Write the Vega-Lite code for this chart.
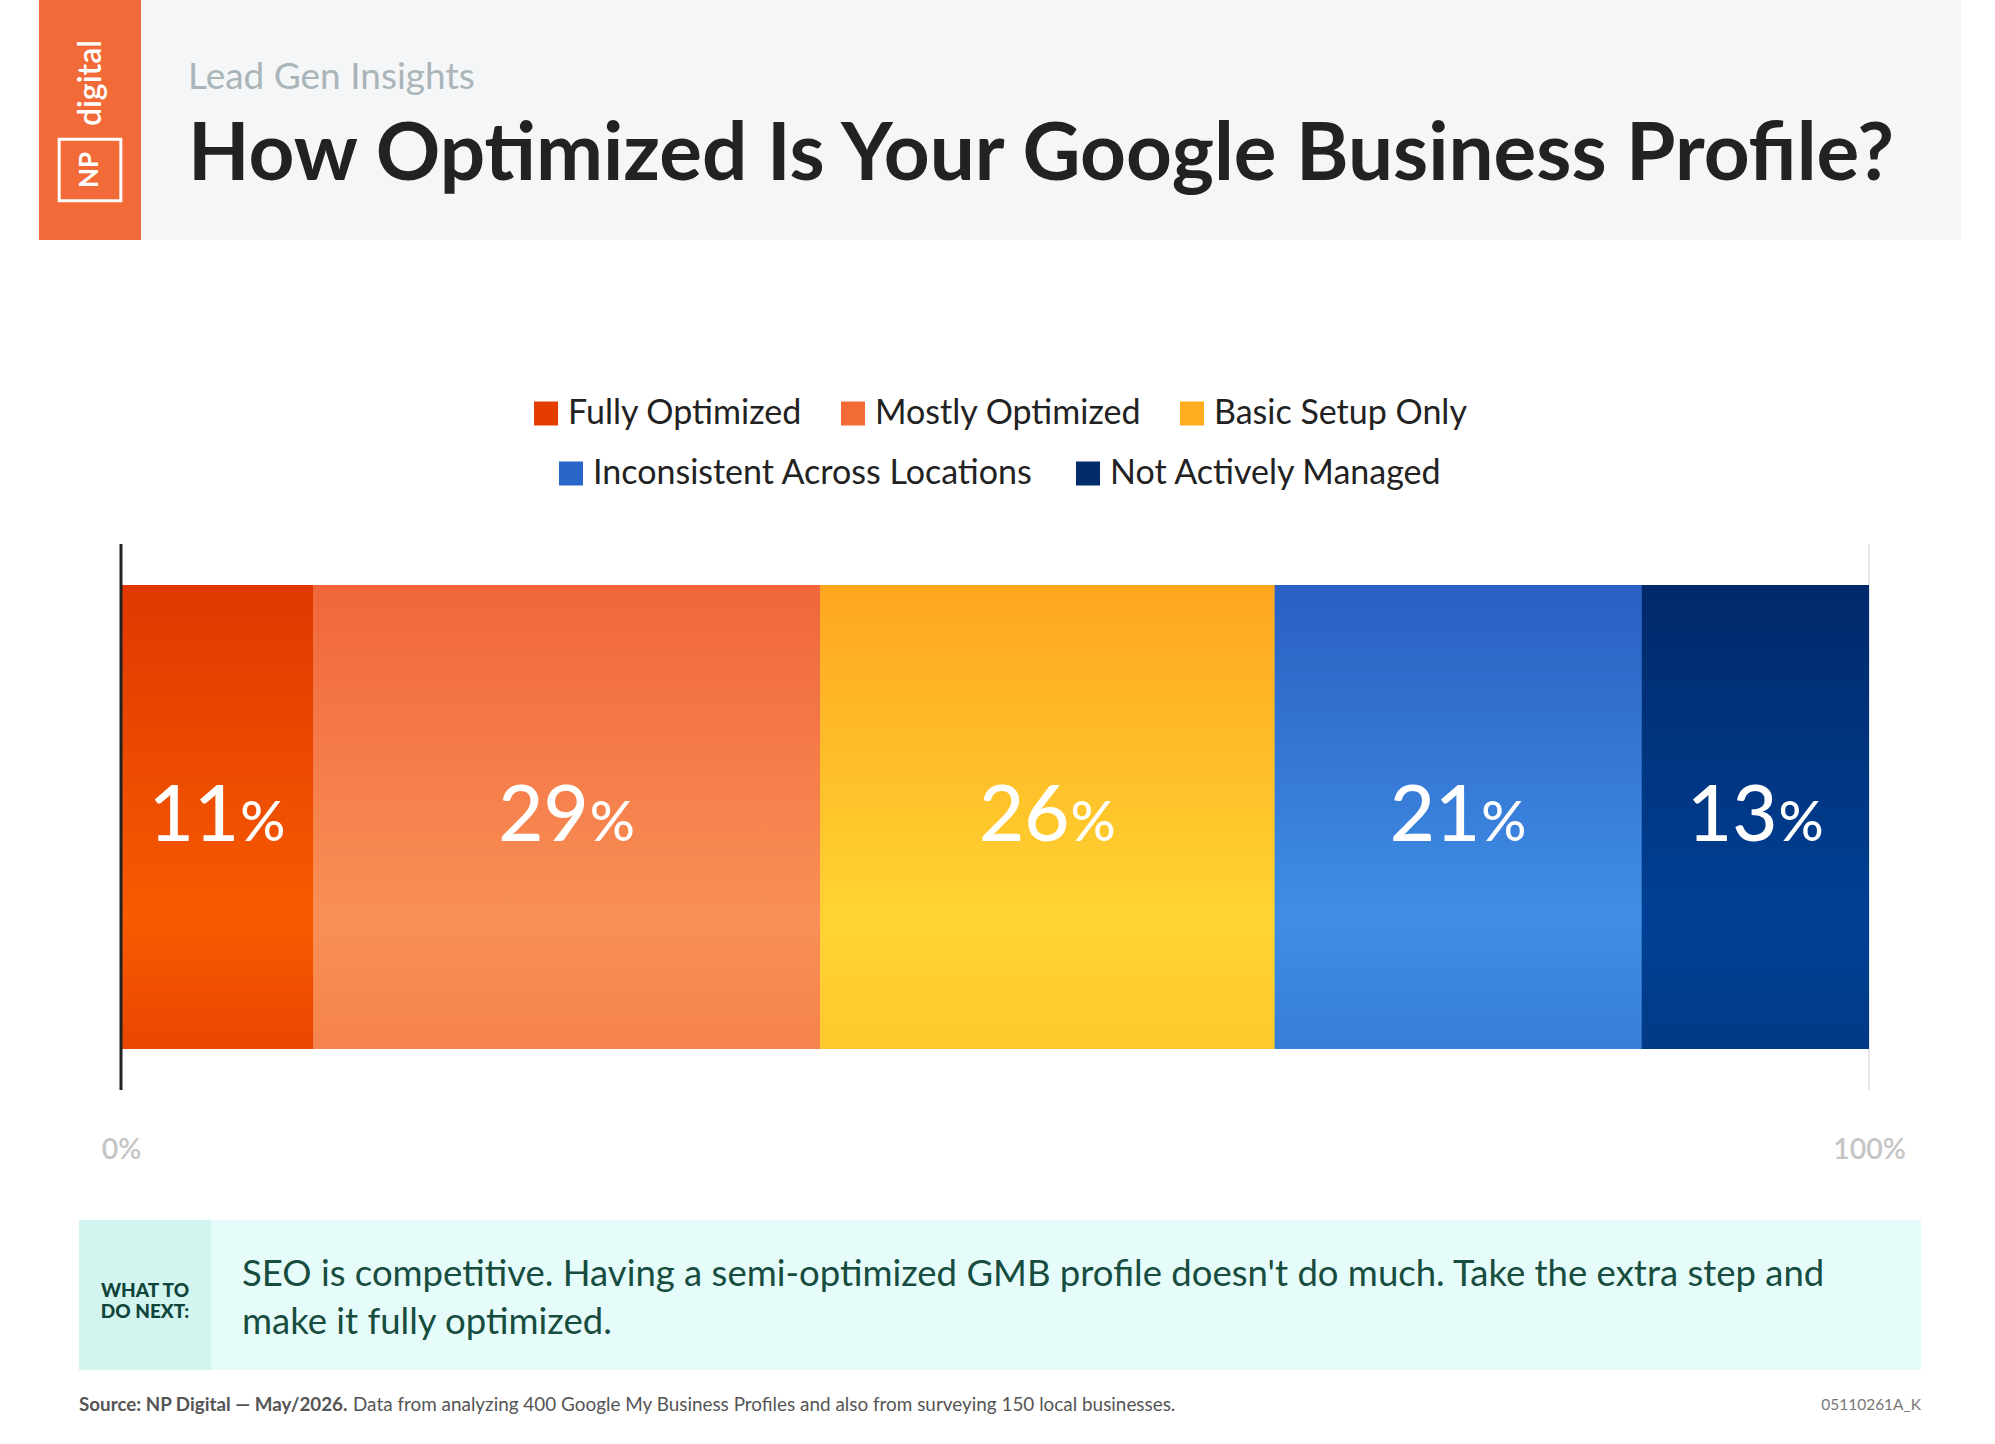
{
  "$schema": "https://vega.github.io/schema/vega-lite/v6.json",
  "background": "#ffffff",
  "padding": {"left": 39, "top": 0, "right": 0, "bottom": 0},
  "spacing": 156,
  "center": true,
  "config": {"font": "Lato", "view": {"stroke": null}},
  "vconcat": [
    {
      "spacing": 0,
      "bounds": "flush",
      "hconcat": [
        {
          "width": 102,
          "height": 240,
          "view": {"fill": "#f26a37", "stroke": null},
          "data": {"values": [{"word": "digital", "box": "NP"}]},
          "layer": [
            {"mark": {"type": "text", "angle": 270, "align": "center", "baseline": "middle", "dx": 37, "dy": 1, "fontSize": 32, "fontWeight": 600, "color": "#ffffff"}, "encoding": {"text": {"field": "word", "type": "nominal"}}},
            {"mark": {"type": "text", "angle": 270, "align": "center", "baseline": "middle", "dx": -50, "dy": 0, "fontSize": 26, "fontWeight": "bold", "color": "#ffffff"}, "encoding": {"text": {"field": "box", "type": "nominal"}}},
            {"mark": {"type": "point", "shape": "square", "size": 3800, "filled": false, "stroke": "#ffffff", "strokeWidth": 3, "opacity": 1, "yOffset": 50}, "encoding": {}}
          ]
        },
        {
          "width": 1820,
          "height": 240,
          "view": {"fill": "#f5f6f8", "stroke": null},
          "data": {"values": [{"kicker": "Lead Gen Insights", "headline": "How Optimized Is Your Google Business Profile?"}]},
          "layer": [
            {"mark": {"type": "text", "align": "left", "baseline": "alphabetic", "dx": -863, "dy": -31, "fontSize": 37, "color": "#a9b5b9"}, "encoding": {"text": {"field": "kicker", "type": "nominal"}}},
            {"mark": {"type": "text", "align": "left", "baseline": "alphabetic", "dx": -863, "dy": 60, "fontSize": 80, "fontWeight": "bold", "color": "#222222"}, "encoding": {"text": {"field": "headline", "type": "nominal"}}}
          ]
        }
      ]
    },
    {
      "spacing": 56,
      "center": false,
      "vconcat": [
        {
          "width": 1790,
          "height": 546,
          "data": {"values": [
            {"category": "Fully Optimized", "value": 11, "order": 1, "row": "Profiles"},
            {"category": "Mostly Optimized", "value": 29, "order": 2, "row": "Profiles"},
            {"category": "Basic Setup Only", "value": 26, "order": 3, "row": "Profiles"},
            {"category": "Inconsistent Across Locations", "value": 21, "order": 4, "row": "Profiles"},
            {"category": "Not Actively Managed", "value": 13, "order": 5, "row": "Profiles"}
          ]},
          "resolve": {"scale": {"color": "independent"}},
          "layer": [
            {
              "data": {"values": [{"edge": 100}]},
              "mark": {"type": "rule", "color": "#e6e6e6", "strokeWidth": 2},
              "encoding": {"x": {"field": "edge", "type": "quantitative", "scale": {"domain": [-2.4027, 100], "nice": false, "zero": false}, "axis": {"values": [0, 100], "labelExpr": "datum.value + '%'", "ticks": false, "domain": false, "grid": false, "title": null, "labelFontSize": 28.5, "labelColor": "#c5c5c5", "labelFontWeight": 600, "labelPadding": 45, "labelFlush": false}}}
            },
            {
              "transform": [{"stack": "value", "groupby": ["row"], "sort": [{"field": "order", "order": "ascending"}], "as": ["x0", "x1"]}, {"filter": "datum.order <= 3"}],
              "mark": {"type": "bar"},
              "encoding": {
                "x": {"field": "x0", "type": "quantitative", "scale": {"domain": [-2.4027, 100], "nice": false, "zero": false}, "axis": {"values": [0, 100], "labelExpr": "datum.value + '%'", "ticks": false, "domain": false, "grid": false, "title": null, "labelFontSize": 28.5, "labelColor": "#c5c5c5", "labelFontWeight": 600, "labelPadding": 45, "labelFlush": false}},
                "x2": {"field": "x1"},
                "y": {"field": "row", "type": "nominal", "axis": null, "scale": {"paddingInner": 0, "paddingOuter": 0.0885}},
                "color": {"field": "category", "type": "nominal", "scale": {"domain": ["Fully Optimized", "Mostly Optimized", "Basic Setup Only"], "range": ["#e53d00", "#f26a36", "#ffad1f"]}, "legend": {"orient": "none", "legendX": 450, "legendY": -147.5, "direction": "horizontal", "title": null, "symbolType": "square", "symbolSize": 576, "symbolStrokeWidth": 0, "labelFontSize": 34, "labelColor": "#222222", "labelOffset": 5, "columnPadding": 33, "labelLimit": 800}}
              }
            },
            {
              "transform": [{"stack": "value", "groupby": ["row"], "sort": [{"field": "order", "order": "ascending"}], "as": ["x0", "x1"]}, {"filter": "datum.order > 3"}],
              "mark": {"type": "bar"},
              "encoding": {
                "x": {"field": "x0", "type": "quantitative", "scale": {"domain": [-2.4027, 100], "nice": false, "zero": false}, "axis": {"values": [0, 100], "labelExpr": "datum.value + '%'", "ticks": false, "domain": false, "grid": false, "title": null, "labelFontSize": 28.5, "labelColor": "#c5c5c5", "labelFontWeight": 600, "labelPadding": 45, "labelFlush": false}},
                "x2": {"field": "x1"},
                "y": {"field": "row", "type": "nominal", "axis": null},
                "color": {"field": "category", "type": "nominal", "scale": {"domain": ["Inconsistent Across Locations", "Not Actively Managed"], "range": ["#2a65c9", "#012b6a"]}, "legend": {"orient": "none", "legendX": 475, "legendY": -87.5, "direction": "horizontal", "title": null, "symbolType": "square", "symbolSize": 576, "symbolStrokeWidth": 0, "labelFontSize": 34, "labelColor": "#222222", "labelOffset": 5, "columnPadding": 38, "labelLimit": 800}}
              }
            },
            {
              "transform": [{"stack": "value", "groupby": ["row"], "sort": [{"field": "order", "order": "ascending"}], "as": ["x0", "x1"]}, {"filter": "datum.order == 1"}],
              "mark": {"type": "bar", "color": {"gradient": "linear", "x1": 0, "y1": 0, "x2": 0, "y2": 1, "stops": [{"offset": 0, "color": "#e03800"}, {"offset": 0.72, "color": "#f65b00"}, {"offset": 1, "color": "#ea4600"}]}},
              "encoding": {"x": {"field": "x0", "type": "quantitative", "scale": {"domain": [-2.4027, 100], "nice": false, "zero": false}, "axis": {"values": [0, 100], "labelExpr": "datum.value + '%'", "ticks": false, "domain": false, "grid": false, "title": null, "labelFontSize": 28.5, "labelColor": "#c5c5c5", "labelFontWeight": 600, "labelPadding": 45, "labelFlush": false}}, "x2": {"field": "x1"}, "y": {"field": "row", "type": "nominal", "axis": null}}
            },
            {
              "transform": [{"stack": "value", "groupby": ["row"], "sort": [{"field": "order", "order": "ascending"}], "as": ["x0", "x1"]}, {"filter": "datum.order == 2"}],
              "mark": {"type": "bar", "color": {"gradient": "linear", "x1": 0, "y1": 0, "x2": 0, "y2": 1, "stops": [{"offset": 0, "color": "#f0663a"}, {"offset": 0.72, "color": "#f99056"}, {"offset": 1, "color": "#f5824c"}]}},
              "encoding": {"x": {"field": "x0", "type": "quantitative", "scale": {"domain": [-2.4027, 100], "nice": false, "zero": false}, "axis": {"values": [0, 100], "labelExpr": "datum.value + '%'", "ticks": false, "domain": false, "grid": false, "title": null, "labelFontSize": 28.5, "labelColor": "#c5c5c5", "labelFontWeight": 600, "labelPadding": 45, "labelFlush": false}}, "x2": {"field": "x1"}, "y": {"field": "row", "type": "nominal", "axis": null}}
            },
            {
              "transform": [{"stack": "value", "groupby": ["row"], "sort": [{"field": "order", "order": "ascending"}], "as": ["x0", "x1"]}, {"filter": "datum.order == 3"}],
              "mark": {"type": "bar", "color": {"gradient": "linear", "x1": 0, "y1": 0, "x2": 0, "y2": 1, "stops": [{"offset": 0, "color": "#ffa61f"}, {"offset": 0.72, "color": "#ffd431"}, {"offset": 1, "color": "#ffc92e"}]}},
              "encoding": {"x": {"field": "x0", "type": "quantitative", "scale": {"domain": [-2.4027, 100], "nice": false, "zero": false}, "axis": {"values": [0, 100], "labelExpr": "datum.value + '%'", "ticks": false, "domain": false, "grid": false, "title": null, "labelFontSize": 28.5, "labelColor": "#c5c5c5", "labelFontWeight": 600, "labelPadding": 45, "labelFlush": false}}, "x2": {"field": "x1"}, "y": {"field": "row", "type": "nominal", "axis": null}}
            },
            {
              "transform": [{"stack": "value", "groupby": ["row"], "sort": [{"field": "order", "order": "ascending"}], "as": ["x0", "x1"]}, {"filter": "datum.order == 4"}],
              "mark": {"type": "bar", "color": {"gradient": "linear", "x1": 0, "y1": 0, "x2": 0, "y2": 1, "stops": [{"offset": 0, "color": "#2a5fc3"}, {"offset": 0.72, "color": "#3f8ee4"}, {"offset": 1, "color": "#377dd6"}]}},
              "encoding": {"x": {"field": "x0", "type": "quantitative", "scale": {"domain": [-2.4027, 100], "nice": false, "zero": false}, "axis": {"values": [0, 100], "labelExpr": "datum.value + '%'", "ticks": false, "domain": false, "grid": false, "title": null, "labelFontSize": 28.5, "labelColor": "#c5c5c5", "labelFontWeight": 600, "labelPadding": 45, "labelFlush": false}}, "x2": {"field": "x1"}, "y": {"field": "row", "type": "nominal", "axis": null}}
            },
            {
              "transform": [{"stack": "value", "groupby": ["row"], "sort": [{"field": "order", "order": "ascending"}], "as": ["x0", "x1"]}, {"filter": "datum.order == 5"}],
              "mark": {"type": "bar", "color": {"gradient": "linear", "x1": 0, "y1": 0, "x2": 0, "y2": 1, "stops": [{"offset": 0, "color": "#00296a"}, {"offset": 0.72, "color": "#004095"}, {"offset": 1, "color": "#013a86"}]}},
              "encoding": {"x": {"field": "x0", "type": "quantitative", "scale": {"domain": [-2.4027, 100], "nice": false, "zero": false}, "axis": {"values": [0, 100], "labelExpr": "datum.value + '%'", "ticks": false, "domain": false, "grid": false, "title": null, "labelFontSize": 28.5, "labelColor": "#c5c5c5", "labelFontWeight": 600, "labelPadding": 45, "labelFlush": false}}, "x2": {"field": "x1"}, "y": {"field": "row", "type": "nominal", "axis": null}}
            },
            {
              "data": {"values": [{"edge": 0}]},
              "mark": {"type": "rule", "color": "#222222", "strokeWidth": 3},
              "encoding": {"x": {"field": "edge", "type": "quantitative", "scale": {"domain": [-2.4027, 100], "nice": false, "zero": false}, "axis": {"values": [0, 100], "labelExpr": "datum.value + '%'", "ticks": false, "domain": false, "grid": false, "title": null, "labelFontSize": 28.5, "labelColor": "#c5c5c5", "labelFontWeight": 600, "labelPadding": 45, "labelFlush": false}}}
            },
            {
              "mark": {"type": "text", "align": "right", "baseline": "alphabetic", "dx": 22, "dy": 24, "fontSize": 78, "fontWeight": 500, "color": "#ffffff"},
              "encoding": {
                "x": {"field": "value", "type": "quantitative", "stack": "zero", "bandPosition": 0.5, "scale": {"domain": [-2.4027, 100], "nice": false, "zero": false}, "axis": {"values": [0, 100], "labelExpr": "datum.value + '%'", "ticks": false, "domain": false, "grid": false, "title": null, "labelFontSize": 28.5, "labelColor": "#c5c5c5", "labelFontWeight": 600, "labelPadding": 45, "labelFlush": false}},
                "y": {"field": "row", "type": "nominal", "axis": null},
                "detail": {"field": "category", "type": "nominal"},
                "order": {"field": "order", "type": "quantitative"},
                "text": {"field": "value", "type": "quantitative"}
              }
            },
            {
              "mark": {"type": "text", "align": "left", "baseline": "alphabetic", "dx": 23, "dy": 24, "fontSize": 56, "fontWeight": 500, "color": "#ffffff"},
              "encoding": {
                "x": {"field": "value", "type": "quantitative", "stack": "zero", "bandPosition": 0.5, "scale": {"domain": [-2.4027, 100], "nice": false, "zero": false}, "axis": {"values": [0, 100], "labelExpr": "datum.value + '%'", "ticks": false, "domain": false, "grid": false, "title": null, "labelFontSize": 28.5, "labelColor": "#c5c5c5", "labelFontWeight": 600, "labelPadding": 45, "labelFlush": false}},
                "y": {"field": "row", "type": "nominal", "axis": null},
                "detail": {"field": "category", "type": "nominal"},
                "order": {"field": "order", "type": "quantitative"},
                "text": {"value": "%"}
              }
            }
          ]
        },
        {
          "spacing": 0,
          "bounds": "flush",
          "hconcat": [
            {
              "width": 132,
              "height": 150,
              "view": {"fill": "#d2f5f0", "stroke": null},
              "data": {"values": [{"label": "WHAT TO\nDO NEXT:"}]},
              "mark": {"type": "text", "lineBreak": "\n", "align": "center", "baseline": "alphabetic", "dy": 2, "fontSize": 19, "fontWeight": 900, "lineHeight": 21, "color": "#10443a"},
              "encoding": {"text": {"field": "label", "type": "nominal"}}
            },
            {
              "width": 1710,
              "height": 150,
              "view": {"fill": "#e6fcfa", "stroke": null},
              "data": {"values": [{"advice": "SEO is competitive. Having a semi-optimized GMB profile doesn't do much. Take the extra step and\nmake it fully optimized.", "sourceBold": "Source: NP Digital — May/2026.", "sourceRest": "Data from analyzing 400 Google My Business Profiles and also from surveying 150 local businesses.", "code": "05110261A_K"}]},
              "layer": [
                {"mark": {"type": "text", "lineBreak": "\n", "align": "left", "baseline": "alphabetic", "dx": -824, "dy": -9, "fontSize": 36.5, "lineHeight": 48, "color": "#174d3f"}, "encoding": {"text": {"field": "advice", "type": "nominal"}}},
                {"mark": {"type": "text", "align": "left", "baseline": "middle", "dx": -987, "dy": 110, "fontSize": 18.8, "fontWeight": "bold", "color": "#555555"}, "encoding": {"text": {"field": "sourceBold", "type": "nominal"}}},
                {"mark": {"type": "text", "align": "left", "baseline": "middle", "dx": -713, "dy": 110, "fontSize": 18.9, "color": "#555555"}, "encoding": {"text": {"field": "sourceRest", "type": "nominal"}}},
                {"mark": {"type": "text", "align": "right", "baseline": "middle", "dx": 855, "dy": 110, "fontSize": 15.5, "color": "#777777"}, "encoding": {"text": {"field": "code", "type": "nominal"}}}
              ]
            }
          ]
        }
      ]
    }
  ]
}
